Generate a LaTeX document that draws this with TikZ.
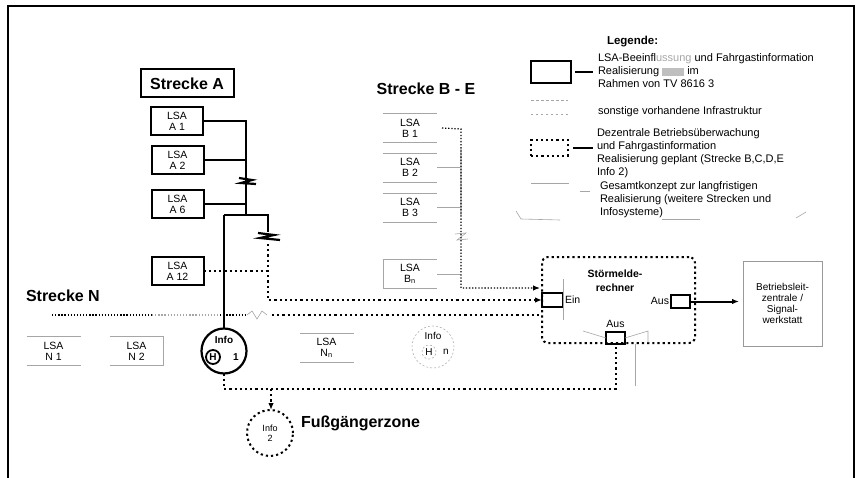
\documentclass[tikz,border=0pt]{standalone}
\usepackage{fontspec}
\setmainfont{Liberation Sans}
\usetikzlibrary{arrows.meta,calc}
\begin{document}
\begin{tikzpicture}[x=1pt,y=-1pt,
  every node/.style={inner sep=0pt,outer sep=0pt},
  lsa/.style={draw,line width=2pt,minimum width=52pt,minimum height=28pt,align=center,font=\fontsize{10.5}{11}\selectfont},
  lsaf/.style={minimum width=54pt,minimum height=29pt,align=center,font=\fontsize{10.5}{11}\selectfont},
  faint/.style={draw=black!35,line width=0.6pt},
  heavy/.style={line width=2pt},
  dotline/.style={line width=2pt,dash pattern=on 2.2pt off 3pt},
  thindot/.style={line width=1.2pt,dash pattern=on 1.3pt off 1.8pt},
  title/.style={font=\fontsize{16}{18}\selectfont\bfseries},
  legtext/.style={font=\fontsize{11}{13}\selectfont,align=left,anchor=north west},
  tip/.style={-{Latex[length=7pt,width=5.5pt]}},
  smallbox/.style={draw,line width=2.2pt},
  lbl/.style={font=\fontsize{10.5}{11}\selectfont}
]
\useasboundingbox (0,0) rectangle (858,478);
% frame
\draw[line width=1.4pt] (8,478) -- (8,6) -- (854,6) -- (854,478);

% ---------------- Strecke A
\node[title,draw,line width=2pt,minimum width=93pt,minimum height=28pt] (sA) at (187,83.5) {Strecke A};
\node[lsa] (a1) at (177,121) {LSA\\A 1};
\node[lsa] (a2) at (177.5,160) {LSA\\A 2};
\node[lsa] (a6) at (177.5,204) {LSA\\A 6};
\node[lsa] (a12) at (177.5,271) {LSA\\A 12};

\coordinate (busA) at (246,215);
\coordinate (jL) at (224,215);
\coordinate (jR) at (268,215);
\coordinate (brk) at (268,232);
\coordinate (dA) at (268,244);

\draw[heavy] (a1.east) -| (busA);
\draw[heavy] (a2.east) -- (a2.east -| busA);
\draw[heavy] (a6.east) -- (a6.east -| busA);
% break marks
\draw[line width=2.2pt] (239,178) -- (252,180) -- (241,183) -- (256,184);
\draw[line width=2.2pt] (258,233) -- (274,235) -- (260,238) -- (280,240);

% ---------------- Info H 1
\node[circle,draw,line width=2.2pt,minimum size=45pt] (info1) at (224,351) {};
\node[font=\fontsize{10}{10}\selectfont\bfseries] (info1t) at (224,340) {Info};
\node[circle,draw,line width=1.8pt,minimum size=14pt,font=\fontsize{10}{10}\selectfont\bfseries] (h1) at (213,357) {H};
\node[font=\fontsize{10}{10}\selectfont\bfseries] (one) at (236,357) {1};

\draw[heavy] (jL) -- (jR) -- (brk);
\draw[heavy] (jL) -- (info1.north);
\draw[dotline] (a12.east) -- (a12.east -| dA);

% ---------------- Strecke B - E
\node[title] (sB) at (426,89) {Strecke B - E};
\node[lsaf] (b1) at (410,128) {LSA\\B 1};
\node[lsaf] (b2) at (410,167.5) {LSA\\B 2};
\node[lsaf] (b3) at (410,207.5) {LSA\\B 3};
\node[lsaf] (bn) at (410,274) {LSA\\B\textsubscript{n}};
\foreach \b in {b1,b2,b3,bn}{
  \draw[faint] (\b.north west) -- (\b.north east);
  \draw[faint] (\b.south west) -- (\b.south east);
}
\draw[faint] (bn.north west) -- (bn.south west);
\coordinate (busB) at (461,129);
\coordinate (busBbot) at (461,288);
\draw[faint] (b2.east) -- (b2.east -| busB);
\draw[faint] (b3.east) -- (b3.east -| busB);
\draw[faint] (bn.east) -- (bn.east -| busB);
\draw[black!22,line width=2.4pt] (461,148) -- (461,216);
\draw[faint] (455,234) -- (466,233) -- (457,240) -- (468,239);

% ---------------- Stoermelderechner
\node[draw,dotline,rounded corners=6pt,minimum width=153pt,minimum height=86pt] (stoer) at (618.5,300) {};
\node[font=\fontsize{10.5}{14}\selectfont\bfseries,align=center] (stt) at (615,281) {Störmelde-\\rechner};
\node[smallbox,minimum width=21pt,minimum height=14pt] (ein) at (552.5,300) {};
\node[lbl,anchor=west] (eint) at (565,300) {Ein};
\node[smallbox,minimum width=19pt,minimum height=13pt] (ausr) at (680.5,301.5) {};
\node[lbl,anchor=east] (ausrt) at (669,301) {Aus};
\node[smallbox,minimum width=19pt,minimum height=12pt] (ausb) at (615.5,338) {};
\node[lbl] (ausbt) at (615.5,324) {Aus};
\draw[faint] (563,279) -- (563,320);
\draw[faint] (583,331) -- (ausb.west);
\draw[faint] (ausb.east) -- (648,331) -- (648,343);
\draw[faint] (635,344) -- (635,386);

\node[draw=black!40,line width=0.7pt,minimum width=79pt,minimum height=85pt,align=center,font=\fontsize{10}{11}\selectfont] (bz) at (782.5,303.5) {Betriebsleit-\\zentrale /\\Signal-\\werkstatt};
\draw[heavy,tip,shorten >=4pt] (ausr.east) -- (ausr.east -| bz.west);

% connections into Stoermelderechner
\draw[thindot,tip,shorten >=2pt] ([xshift=5pt]b1.east) -- (busB) -- (busBbot) -- (busBbot -| stoer.west);
\draw[dotline,tip] (dA) -- (dA |- ein.west) -- (ein.west);

% ---------------- Strecke N
\node[title,anchor=west] (sN) at (26,296) {Strecke N};
\coordinate (n0) at (52,315);
\coordinate (n1) at (152,315);
\coordinate (n2) at (220,315);
\coordinate (n3) at (245,315);
\coordinate (n4) at (272,315);
\draw[thindot] (n0) -- (n1);
\draw[thindot,black!35] (n1) -- (n2);
\draw[thindot] (n2) -- (n3);
\draw[faint] (247,315) -- (252,311) -- (257,319) -- (262,311) -- (267,315);
\draw[dotline] (n4) -- (n4 -| stoer.west);

\node[lsaf] (n1b) at (53.5,351) {LSA\\N 1};
\node[lsaf] (n2b) at (136.5,351) {LSA\\N 2};
\node[lsaf] (nnb) at (326.5,348) {LSA\\N\textsubscript{n}};
\foreach \b in {n1b,n2b,nnb}{
  \draw[faint] (\b.north west) -- (\b.north east);
  \draw[faint] (\b.south west) -- (\b.south east);
}
\draw[faint] (n2b.north east) -- (n2b.south east);

% Info H n (faint)
\node[circle,draw=black!30,line width=0.6pt,dash pattern=on 2pt off 2pt,minimum size=42pt] (infon) at (433,347) {};
\node[font=\fontsize{10}{10}\selectfont] (infont) at (433,336) {Info};
\node[circle,draw=black!30,line width=0.6pt,dash pattern=on 2pt off 2pt,minimum size=14pt,font=\fontsize{10}{10}\selectfont] (hn) at (429,352) {H};
\node[font=\fontsize{10}{10}\selectfont] (nn) at (446,352) {n};

% ---------------- Info 2
\node[circle,draw,dotline,minimum size=46pt,align=center,font=\fontsize{9}{10}\selectfont] (info2) at (270,433) {Info\\2};
\node[title,anchor=west] (fz) at (301,423) {Fußgängerzone};
\coordinate (bl) at (224,389);
\coordinate (br) at (271,389);
\draw[dotline] (info1.south) -- (bl) -- (bl -| ausb.south) -- (ausb.south);
\draw[dotline,tip] (br) -- (br |- info2.north);

% ---------------- Legend
\node[font=\fontsize{11.5}{13}\selectfont\bfseries,anchor=west] (leg) at (607,42) {Legende:};
\node[draw,line width=2pt,minimum width=40pt,minimum height=22pt] (lg1) at (551,72) {};
\coordinate (lg1e) at (593,72);
\draw[line width=1.6pt] ([xshift=4pt]lg1.east) -- (lg1e);
\node[legtext] (lt1) at (598,54) {LSA-Beeinfl\textcolor{black!35}{ussung} und Fahrgastinformation\\Realisierung \textcolor{black!25}{\rule[-1pt]{22pt}{8pt}} im\\Rahmen von TV 8616 3};

\draw[faint,dash pattern=on 3pt off 2pt] (531,100) -- (568,100);
\draw[faint,dash pattern=on 2pt off 3pt] (531,114) -- (568,114);
\node[legtext,anchor=west] (lt2) at (598,112) {sonstige vorhandene Infrastruktur};

\node[draw,dotline,minimum width=37pt,minimum height=16pt] (lg3) at (549.5,148) {};
\coordinate (lg3e) at (593,148);
\draw[line width=1.6pt] ([xshift=5pt]lg3.east) -- (lg3e);
\node[legtext] (lt3) at (597,129) {Dezentrale Betriebsüberwachung\\und Fahrgastinformation\\Realisierung geplant (Strecke B,C,D,E\\Info 2)};

\draw[faint] (531,183) -- (569,183);
\draw[faint] (580,191) -- (590,191);
\draw[faint] (516,211) -- (521,219) -- (560,220);
\draw[faint] (662,219) -- (700,219);
\draw[faint] (796,218) -- (806,212);
\node[legtext] (lt4) at (600,182) {Gesamtkonzept zur langfristigen\\Realisierung (weitere Strecken und\\Infosysteme)};
\end{tikzpicture}
\end{document}
